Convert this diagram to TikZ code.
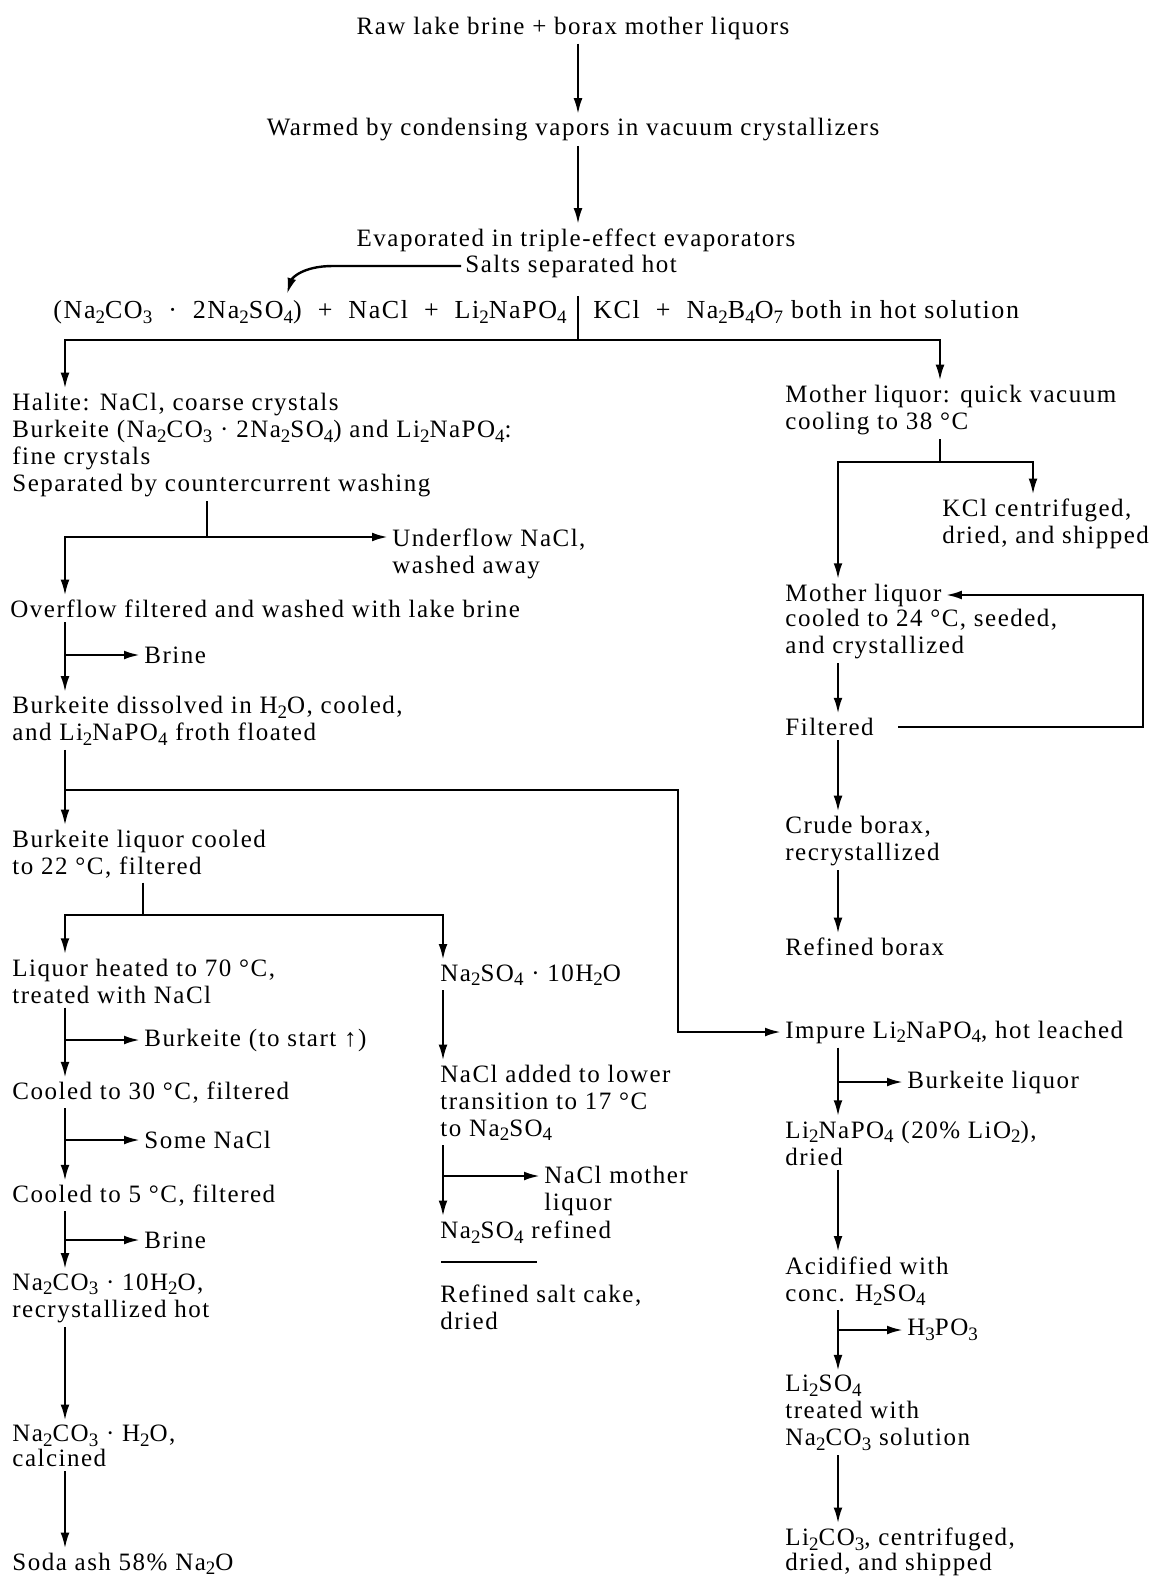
\documentclass[tikz,border=0pt]{standalone}
\usepackage{fontspec}
\setmainfont{Liberation Serif}[LetterSpace=6]
\usetikzlibrary{arrows.meta,calc}
\newcommand{\sub}[1]{\raisebox{-0.4ex}{\fontsize{9.5}{9.5}\selectfont #1}}
\newcommand{\gap}{\hspace{8pt}}
\tikzset{
  stage/.style={anchor=west,align=left,inner sep=2pt,font=\fontsize{12.5}{13.5}\selectfont},
  stagec/.style={stage,anchor=center,align=center},
  tight/.style={stage,font=\fontsize{12.5}{12.6}\selectfont},
  pipe/.style={line width=1.2pt},
  flow/.style={pipe,-{Latex[length=8pt,width=4.4pt]}},
}
\begin{document}
\begin{tikzpicture}[x=0.5pt,y=-0.5pt]
  \useasboundingbox (0,0) rectangle (1158,1578);
  % column axes
  \coordinate (ctop) at (578,0);
  \coordinate (cl) at (65,0);
  \coordinate (cm) at (443,0);
  \coordinate (cr) at (838,0);
  \coordinate (cb) at (940,0);
  \coordinate (ck) at (1033,0);
  \coordinate (jog) at (678,0);
  \coordinate (loopx) at (1143,0);
  % head of the process
  \node[stagec] (raw) at (573,28){Raw lake brine + borax mother liquors};
  \node[stagec] (warmed) at (573,130){Warmed by condensing vapors in vacuum crystallizers};
  \node[stagec] (evap) at (576,240){Evaporated in triple-effect evaporators};
  \node[stage] (salts) at (461,266){Salts separated hot};
  \node[stage,anchor=east,font=\fontsize{13}{13.5}\selectfont] (mix) at (571,312){(Na\sub{2}CO\sub{3}\gap·\gap2Na\sub{2}SO\sub{4})\gap+\gap NaCl\gap+\gap Li\sub{2}NaPO\sub{4}};
  \node[stage,font=\fontsize{13}{13.5}\selectfont] (hotsol) at (589,312){KCl\gap+\gap Na\sub{2}B\sub{4}O\sub{7} both in hot solution};
  % left column: salts
  \node[stage] (halite) at (8,445){Halite: NaCl, coarse crystals\\
    Burkeite (Na\sub{2}CO\sub{3} · 2Na\sub{2}SO\sub{4}) and Li\sub{2}NaPO\sub{4}:\\
    fine crystals\\ Separated by countercurrent washing};
  \node[stage] (under) at (388,554){Underflow NaCl,\\ washed away};
  \node[stage] (overflow) at (6,609){Overflow filtered and washed with lake brine};
  \node[stage] (brine1) at (140,655){Brine};
  \node[stage] (dissolved) at (8,721){Burkeite dissolved in H\sub{2}O, cooled,\\ and Li\sub{2}NaPO\sub{4} froth floated};
  \node[stage] (bliq) at (8,854){Burkeite liquor cooled\\ to 22 °C, filtered};
  \node[stage] (heated) at (8,981){Liquor heated to 70 °C,\\ treated with NaCl};
  \node[stage] (tostart) at (140,1040){Burkeite (to start ↑)};
  \node[stage] (cool30) at (8,1093){Cooled to 30 °C, filtered};
  \node[stage] (somenacl) at (140,1140){Some NaCl};
  \node[stage] (cool5) at (8,1196){Cooled to 5 °C, filtered};
  \node[stage] (brine2) at (140,1240){Brine};
  \node[stage] (deca) at (8,1298){Na\sub{2}CO\sub{3} · 10H\sub{2}O,\\ recrystallized hot};
  \node[tight] (mono) at (8,1446){Na\sub{2}CO\sub{3} · H\sub{2}O,\\ calcined};
  \node[stage] (soda) at (8,1564){Soda ash 58\% Na\sub{2}O};
  % middle column: salt cake
  \node[stage] (glauber) at (436,975){Na\sub{2}SO\sub{4} · 10H\sub{2}O};
  \node[stage] (nacladd) at (436,1103){NaCl added to lower\\ transition to 17 °C\\ to Na\sub{2}SO\sub{4}};
  \node[stage] (nacmoth) at (540,1191){NaCl mother\\ liquor};
  \node[stage] (nasref) at (436,1232){Na\sub{2}SO\sub{4} refined};
  \node[stage] (saltcake) at (436,1307){Refined salt cake,\\ dried};
  % right column: potash, borax, lithium
  \node[stage] (mother1) at (781,410){Mother liquor: quick vacuum\\ cooling to 38 °C};
  \node[stage] (kcl) at (938,524){KCl centrifuged,\\ dried, and shipped};
  \node[stage] (mother2) at (781,595){Mother liquor};
  \node[stage] (seeded) at (781,634){cooled to 24 °C, seeded,\\ and crystallized};
  \node[stage] (filtered) at (781,727){Filtered};
  \node[stage] (crude) at (781,841){Crude borax,\\ recrystallized};
  \node[stage] (refborax) at (781,947){Refined borax};
  \node[stage] (impure) at (781,1032){Impure Li\sub{2}NaPO\sub{4}, hot leached};
  \node[stage] (bliq2) at (903,1082){Burkeite liquor};
  \node[stage] (lithphos) at (781,1143){Li\sub{2}NaPO\sub{4} (20\% LiO\sub{2}),\\ dried};
  \node[stage] (acid) at (781,1281){Acidified with\\ conc. H\sub{2}SO\sub{4}};
  \node[stage] (phos) at (903,1330){H\sub{3}PO\sub{3}};
  \node[stage] (lisulf) at (781,1413){Li\sub{2}SO\sub{4}\\ treated with\\ Na\sub{2}CO\sub{3} solution};
  \node[tight] (licarb) at (781,1552){Li\sub{2}CO\sub{3}, centrifuged,\\ dried, and shipped};
  % junctions
  \coordinate (split) at (578,340);
  \coordinate (saltsin) at (287,294);
  \coordinate (tee1) at (207,537);
  \coordinate (tee4) at (65,790);
  \coordinate (tee5) at (143,915);
  \coordinate (tee6) at (443,1176);
  \coordinate (tee7) at (940,462);
  % head connectors
  \draw[flow] (ctop |- raw.south) -- (ctop |- warmed.north);
  \draw[flow] (ctop |- warmed.south) -- (ctop |- evap.north);
  \draw[flow] (salts.west) -- ++(-128,0) .. controls +(-30,0) and +(5,-16) .. (saltsin);
  \draw[pipe] (split |- mix.north) -- (split);
  \draw[flow] (split) -| (cl |- halite.north);
  \draw[flow] (split) -| (cb |- mother1.north);
  % left column connectors
  \draw[pipe] (tee1 |- halite.south) -- (tee1);
  \draw[flow] (tee1) -| (cl |- overflow.north);
  \draw[flow] (tee1) -- (tee1 -| under.west);
  \draw[flow] (cl |- overflow.south) -- (cl |- dissolved.north);
  \draw[flow] (cl |- brine1) -- (brine1.west);
  \draw[flow] (cl |- dissolved.south) -- (cl |- bliq.north);
  \draw[flow] (tee4) -- (tee4 -| jog) |- (impure.west);
  \draw[pipe] (tee5 |- bliq.south) -- (tee5);
  \draw[flow] (tee5) -| (cl |- heated.north);
  \draw[flow] (tee5) -| (cm |- glauber.north);
  \draw[flow] (cl |- heated.south) -- (cl |- cool30.north);
  \draw[flow] (cl |- tostart) -- (tostart.west);
  \draw[flow] (cl |- cool30.south) -- (cl |- cool5.north);
  \draw[flow] (cl |- somenacl) -- (somenacl.west);
  \draw[flow] (cl |- cool5.south) -- (cl |- deca.north);
  \draw[flow] (cl |- brine2) -- (brine2.west);
  \draw[flow] (cl |- deca.south) -- (cl |- mono.north);
  \draw[flow] (cl |- mono.south) -- (cl |- soda.north);
  % middle column connectors
  \draw[flow] (cm |- glauber.south) -- (cm |- nacladd.north);
  \draw[flow] (cm |- nacladd.south) -- (cm |- nasref.north);
  \draw[flow] (tee6) -- (tee6 -| nacmoth.west);
  \draw[pipe] ($(nasref.west)+(5,30)$) -- +(96,0);
  % right column connectors
  \draw[pipe] (tee7 |- mother1.south) -- (tee7);
  \draw[flow] (tee7) -| (cr |- mother2.north);
  \draw[flow] (tee7) -| (ck |- kcl.north);
  \draw[flow] (cr |- seeded.south) -- (cr |- filtered.north);
  \draw[flow] ([xshift=10pt]filtered.east) -- (filtered.east -| loopx) |- (mother2.east);
  \draw[flow] (cr |- filtered.south) -- (cr |- crude.north);
  \draw[flow] (cr |- crude.south) -- (cr |- refborax.north);
  \draw[flow] (cr |- impure.south) -- (cr |- lithphos.north);
  \draw[flow] (cr |- bliq2) -- (bliq2.west);
  \draw[flow] (cr |- lithphos.south) -- (cr |- acid.north);
  \draw[flow] (cr |- acid.south) -- (cr |- lisulf.north);
  \draw[flow] (cr |- phos) -- (phos.west);
  \draw[flow] (cr |- lisulf.south) -- (cr |- licarb.north);
\end{tikzpicture}
\end{document}
